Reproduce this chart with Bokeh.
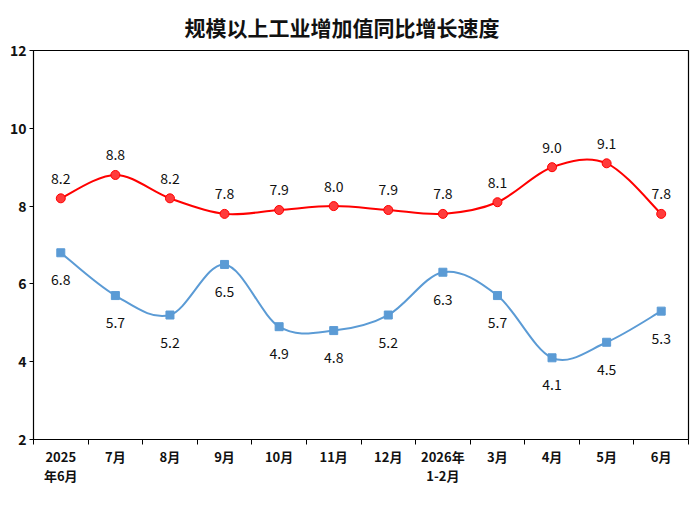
import numpy as np
from bokeh.plotting import figure
from bokeh.models import Range1d, FixedTicker, Legend, LegendItem, Label, Title, ColumnDataSource
from bokeh.embed import file_html
from bokeh.resources import INLINE
from bokeh.core.properties import value

categories = ["2025\n年6月", "7月", "8月", "9月", "10月", "11月", "12月",
              "2026年\n1-2月", "3月", "4月", "5月", "6月"]
henan = [8.2, 8.8, 8.2, 7.8, 7.9, 8.0, 7.9, 7.8, 8.1, 9.0, 9.1, 7.8]
national = [6.8, 5.7, 5.2, 6.5, 4.9, 4.8, 5.2, 6.3, 5.7, 4.1, 4.5, 5.3]
y_ticks = [2, 4, 6, 8, 10, 12]

FONT = "Noto Sans CJK SC"
RED = "#FF0000"
RED_FILL = "#FF3B3B"
BLUE = "#5B9BD5"

xs = np.arange(len(categories)) + 0.5


def bezier_source(x, y):
    x = np.asarray(x, float)
    y = np.asarray(y, float)
    px = np.concatenate([[x[0]], x, [x[-1]]])
    py = np.concatenate([[y[0]], y, [y[-1]]])
    n = len(x)
    d = dict(x0=[], y0=[], x1=[], y1=[], cx0=[], cy0=[], cx1=[], cy1=[])
    for i in range(n - 1):
        j = i + 1
        d["x0"].append(px[j]); d["y0"].append(py[j])
        d["x1"].append(px[j + 1]); d["y1"].append(py[j + 1])
        d["cx0"].append(px[j] + (px[j + 1] - px[j - 1]) / 6)
        d["cy0"].append(py[j] + (py[j + 1] - py[j - 1]) / 6)
        d["cx1"].append(px[j + 1] - (px[j + 2] - px[j]) / 6)
        d["cy1"].append(py[j + 1] - (py[j + 2] - py[j]) / 6)
    return ColumnDataSource(d)


p = figure(frame_width=655, frame_height=389, output_backend="svg", toolbar_location=None,
           x_range=Range1d(0, len(categories)), y_range=Range1d(2, 12),
           min_border_left=33, min_border_right=2, min_border_top=49, min_border_bottom=0)

p.title = Title(text="规模以上工业增加值同比增长速度", align="left", offset=151, standoff=18,
                text_font=FONT, text_font_size="21px", text_font_style="bold",
                text_color="#111111")

p.xgrid.visible = False
p.ygrid.visible = False
p.outline_line_color = "black"
p.outline_line_width = 1.2
p.background_fill_color = "white"
p.border_fill_color = "white"

# axes
p.xaxis.ticker = FixedTicker(ticks=list(xs), minor_ticks=list(range(len(categories) + 1)))
p.xaxis.major_label_overrides = {float(x): c for x, c in zip(xs, categories)}
p.xaxis.axis_label = None
p.xaxis.major_tick_out = 0
p.xaxis.major_tick_in = 0
p.xaxis.minor_tick_out = 5
p.xaxis.minor_tick_in = 0
p.xaxis.minor_tick_line_color = "black"
p.xaxis.major_label_standoff = 2
p.xaxis.major_label_text_font = FONT
p.xaxis.major_label_text_font_size = "13px"
p.xaxis.major_label_text_font_style = "bold"
p.xaxis.major_label_text_color = "#111111"
p.xaxis.major_label_text_line_height = 1.0
p.xaxis.axis_line_color = "black"

p.yaxis.ticker = FixedTicker(ticks=y_ticks)
p.yaxis.minor_tick_line_color = None
p.yaxis.major_tick_out = 4
p.yaxis.major_tick_in = 0
p.yaxis.major_label_standoff = 3
p.yaxis.major_label_text_font = FONT
p.yaxis.major_label_text_font_size = "14px"
p.yaxis.major_label_text_font_style = "bold"
p.yaxis.major_label_text_color = "#111111"
p.yaxis.axis_line_color = "black"

# series
src_h = bezier_source(xs, henan)
src_n = bezier_source(xs, national)
rb_h = p.bezier(x0="x0", y0="y0", x1="x1", y1="y1", cx0="cx0", cy0="cy0", cx1="cx1", cy1="cy1",
                source=src_h, line_color=RED, line_width=2)
rs_h = p.scatter(xs, henan, marker="circle", size=9, fill_color=RED_FILL, line_color=RED)
rb_n = p.bezier(x0="x0", y0="y0", x1="x1", y1="y1", cx0="cx0", cy0="cy0", cx1="cx1", cy1="cy1",
                source=src_n, line_color=BLUE, line_width=2)
rs_n = p.scatter(xs, national, marker="square", size=8, fill_color=BLUE, line_color=BLUE)

p.text(xs, henan, text=[f"{v:.1f}" for v in henan], y_offset=-20,
       text_align="center", text_baseline="middle", text_font=value(FONT),
       text_font_size="14px", text_color="#111111")
p.text(xs, national, text=[f"{v:.1f}" for v in national], y_offset=27,
       text_align="center", text_baseline="middle", text_font=value(FONT),
       text_font_size="14px", text_color="#111111")

p.add_layout(Label(x=0, y=12.58, text="(%)", text_align="center", text_baseline="middle",
                   text_font=FONT, text_font_size="13px", text_color="#111111"))

legend = Legend(items=[LegendItem(label="河南", renderers=[rb_h, rs_h]),
                       LegendItem(label="全国", renderers=[rb_n, rs_n])],
                orientation="horizontal", location="center",
                label_text_font=FONT, label_text_font_size="14px", label_text_color="#111111",
                glyph_width=27, glyph_height=14, label_height=14, spacing=23,
                padding=0, margin=0, border_line_color=None, background_fill_alpha=0,
                label_standoff=6)
p.add_layout(legend, "below")

open("out.html", "w").write(file_html(p, INLINE))
